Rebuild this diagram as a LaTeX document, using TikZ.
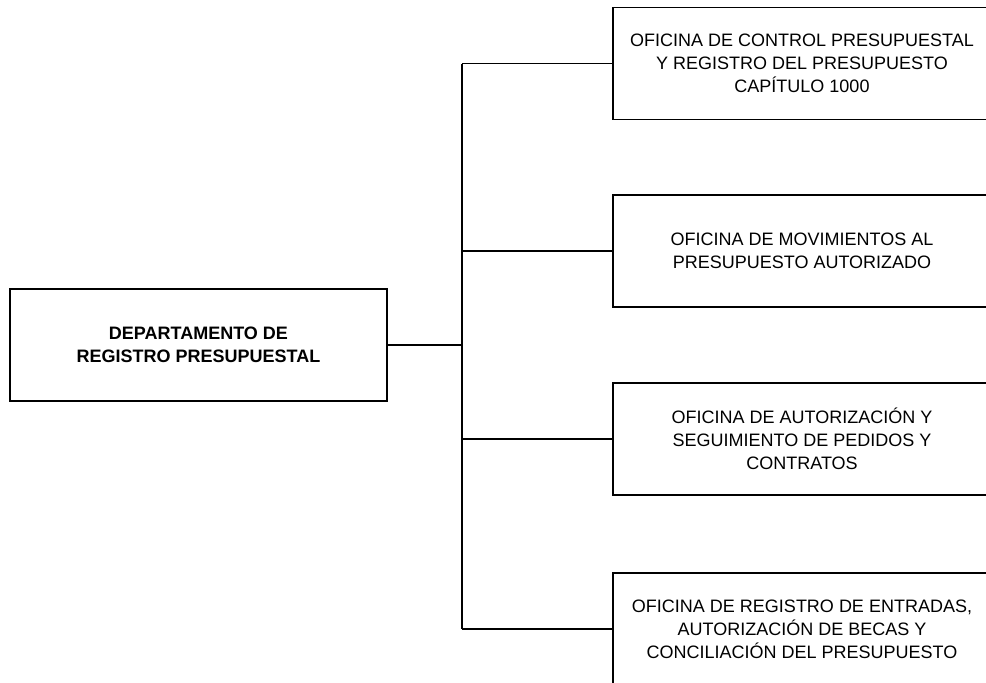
\documentclass[tikz,border=0pt]{standalone}
\usepackage{fontspec}
\setmainfont{Liberation Sans}
\usetikzlibrary{positioning}

\tikzset{
  caja/.style={draw, line width=0.8pt, minimum width=188.5pt, minimum height=56pt,
    align=center, inner sep=0pt, font=\fontsize{9}{11.5}\selectfont},
  ofi/.style={caja, minimum width=189pt},
  enlace/.style={line width=0.6pt}
}

\begin{document}
\begin{tikzpicture}[x=0.5pt, y=-0.5pt]
  \clip (0,0) rectangle (986,682);
  % jefatura
  \node[caja, font=\fontsize{9}{11.5}\selectfont\bfseries] (dep) at (198.5,345)
    {DEPARTAMENTO DE\\REGISTRO PRESUPUESTAL};
  % oficinas
  \node[ofi] (o1) at (802,63.5)
    {OFICINA DE CONTROL PRESUPUESTAL\\Y REGISTRO DEL PRESUPUESTO\\CAPÍTULO 1000};
  \node[ofi] (o2) at (802,251)
    {OFICINA DE MOVIMIENTOS AL\\PRESUPUESTO AUTORIZADO};
  \node[ofi] (o3) at (802,439)
    {OFICINA DE AUTORIZACIÓN Y\\SEGUIMIENTO DE PEDIDOS Y\\CONTRATOS};
  \node[ofi] (o4) at (802,629)
    {OFICINA DE REGISTRO DE ENTRADAS,\\AUTORIZACIÓN DE BECAS Y\\CONCILIACIÓN DEL PRESUPUESTO};
  % tronco
  \coordinate (tr) at (462,345);
  \draw[enlace] (dep.east) -- (tr);
  \draw[enlace] (o1.west -| tr) -- (o4.west -| tr);
  \foreach \o in {o1,o2,o3,o4}
    \draw[enlace] (\o.west -| tr) -- (\o.west);
\end{tikzpicture}
\end{document}
